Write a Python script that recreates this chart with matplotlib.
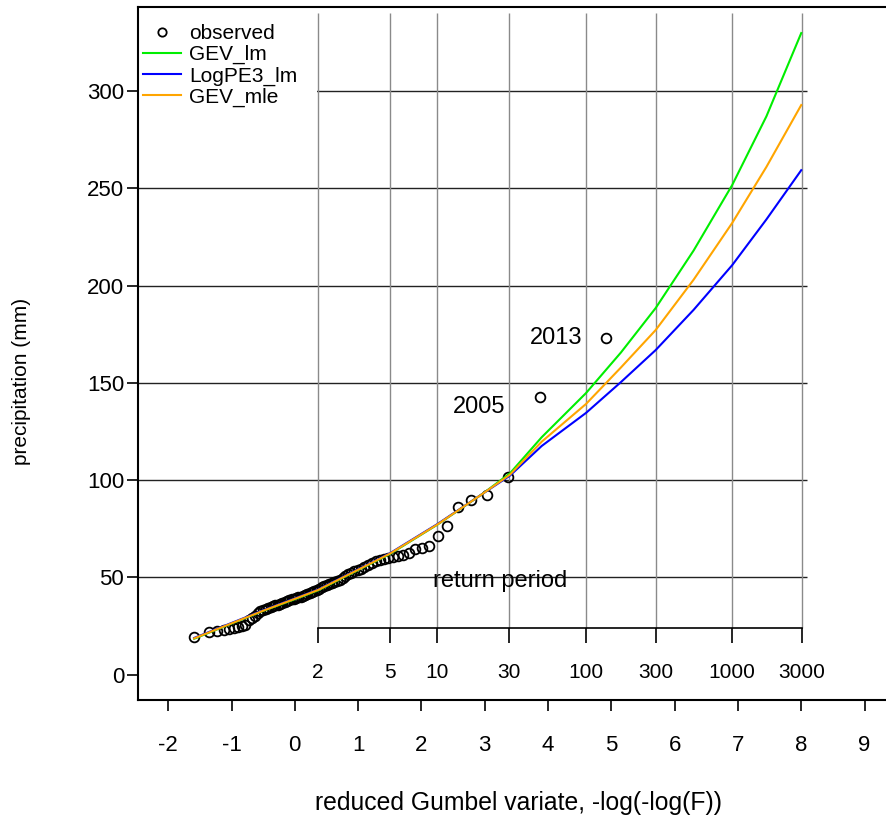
import numpy as np
import matplotlib
matplotlib.use("Agg")
import matplotlib.pyplot as plt
from matplotlib.lines import Line2D
from matplotlib.patches import Rectangle

plt.rcParams["font.family"] = ["Liberation Sans", "DejaVu Sans"]
plt.rcParams["axes.unicode_minus"] = False

# annual maximum precipitation (mm), sorted ascending
precip = [19.5, 22.0, 22.5, 23.0, 23.5, 24.0, 24.5, 24.8, 25.5, 28.0,
          29.0, 30.0, 31.5, 32.5, 33.0, 33.5, 34.0, 34.5, 35.0, 35.5,
          36.0, 36.5, 37.0, 37.5, 38.0, 38.3, 38.6, 39.0, 39.3, 39.6,
          40.0, 40.5, 41.0, 41.5, 42.0, 42.5, 43.0, 43.5, 44.0, 45.0,
          45.5, 46.0, 46.5, 47.0, 47.5, 48.0, 48.5, 49.5, 50.5, 51.5,
          52.0, 53.0, 53.5, 54.5, 55.5, 56.5, 57.5, 58.5, 59.0, 59.5,
          59.8, 60.2, 60.8, 61.5, 62.5, 64.5, 65.0, 66.0, 71.0, 76.5,
          86.0, 89.5, 92.5, 101.5, 142.7, 173.0]
flagged = {"2005": 142.7, "2013": 173.0}

# fitted quantiles along the Gumbel variate
curve_u = [-1.59, -1.0, -0.5, 0.0, 0.37, 0.74, 1.5, 2.25, 2.97, 3.4, 3.9,
           4.6, 5.15, 5.7, 6.3, 6.91, 7.45, 8.0]
gev_lm = [18.4, 26.2, 32.7, 38.7, 43.3, 49.4, 61.9, 77.0, 93.0, 103.5, 122.0,
          144.7, 165.5, 188.4, 218.0, 251.7, 287.0, 329.8]
logpe3_lm = [18.8, 26.5, 33.0, 39.1, 43.7, 49.8, 62.3, 77.3, 93.0, 102.3, 117.5,
             134.5, 150.3, 166.8, 187.5, 210.5, 234.0, 259.3]
gev_mle = [18.6, 26.3, 32.8, 38.9, 43.5, 49.6, 62.1, 77.1, 93.0, 102.8, 119.7,
           139.1, 157.8, 177.1, 203.0, 232.2, 261.0, 292.8]

return_periods = [2, 5, 10, 30, 100, 300, 1000, 3000]
y_ticks = [0, 50, 100, 150, 200, 250, 300]
x_ticks = list(range(-2, 10))

# Gringorten plotting positions
n = len(precip)
rank = np.arange(1, n + 1)
F = (rank - 0.44) / (n + 0.12)
gumbel = -np.log(-np.log(F))
rp_u = -np.log(-np.log(1 - 1 / np.array(return_periods, dtype=float)))

fig = plt.figure(figsize=(8.86, 8.21), dpi=100)
ax = fig.add_axes([138 / 886, 121 / 821, 754.4 / 886, 693 / 821])
ax.set_xlim(-2.477, 9.44)
ax.set_ylim(-13.1, 343.2)

# grid: horizontal at the y ticks, vertical at the return periods
ax.hlines(y_ticks[1:], -2.477, 8.09, color="#222222", lw=1.0, zorder=1)
ax.add_patch(Rectangle((-2.477, 287), 2.477 + rp_u[0] - 0.02, 60,
                       facecolor="white", edgecolor="none", zorder=2))
ax.vlines(rp_u, 24, 340, color="#8a8a8a", lw=1.0, zorder=3)

# return period axis inside the plot
ax.plot([rp_u[0], rp_u[-1]], [24, 24], color="black", lw=1.2, zorder=3)
ax.vlines(rp_u, 16, 24, color="black", lw=1.2, zorder=3)
for u, t in zip(rp_u, return_periods):
    ax.text(u, 1, str(t), ha="center", va="center", fontsize=15)
ax.text(3.25, 48, "return period", ha="center", va="center", fontsize=17)

ax.plot(gumbel, precip, "o", ms=7, mfc="none", mec="black", mew=1.3, zorder=4)
ax.plot(curve_u, gev_lm, color="#00ee00", lw=1.5, zorder=5)
ax.plot(curve_u, logpe3_lm, color="#0000ff", lw=1.5, zorder=5)
ax.plot(curve_u, gev_mle, color="#ffa500", lw=1.5, zorder=5)

ax.text(4.55, flagged["2013"], "2013", ha="right", va="center", fontsize=17)
ax.text(3.32, flagged["2005"] - 5, "2005", ha="right", va="center", fontsize=17)

handles = [
    Line2D([], [], ls="none", marker="o", ms=6, mfc="none", mec="black", mew=1.3),
    Line2D([], [], color="#00ee00", lw=1.5),
    Line2D([], [], color="#0000ff", lw=1.5),
    Line2D([], [], color="#ffa500", lw=1.5),
]
ax.legend(handles, ["observed", "GEV_lm", "LogPE3_lm", "GEV_mle"],
          loc="upper left", bbox_to_anchor=(5 / 754.4, 1 - 17 / 693),
          borderaxespad=0, borderpad=0, frameon=False, fontsize=15,
          handlelength=1.8, handletextpad=0.4, labelspacing=0.1)

ax.set_xticks(x_ticks)
ax.set_yticks(y_ticks)
ax.tick_params(axis="both", direction="out", length=8, width=1.2, labelsize=16)
ax.tick_params(axis="x", pad=17)
ax.tick_params(axis="y", pad=2)
for side in ["top", "left", "bottom", "right"]:
    ax.spines[side].set_linewidth(1.5)

ax.set_xlabel("reduced Gumbel variate, -log(-log(F))", fontsize=17.8)
ax.set_ylabel("precipitation (mm)", fontsize=15)
ax.xaxis.set_label_coords(0.504, -0.1486)
ax.yaxis.set_label_coords(-0.1538, 0.46)
ax.xaxis.label.set_va("center")
ax.yaxis.label.set_va("center")

fig.savefig("out.png", dpi=100)
